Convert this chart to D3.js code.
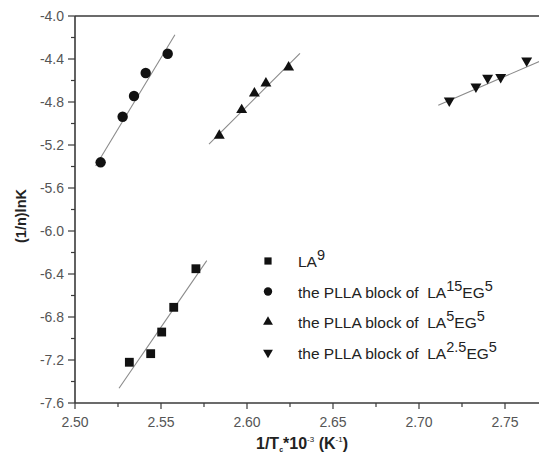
<!DOCTYPE html>
<html><head><meta charset="utf-8">
<script src="https://cdn.jsdelivr.net/npm/d3@7"></script>
<style>body{margin:0;background:#fff}svg{display:block}text{font-family:"Liberation Sans",Arial,sans-serif}</style>
</head><body><svg id="c" width="539" height="461"></svg>
<script>
// Data
const xTicks = [2.50, 2.55, 2.60, 2.65, 2.70, 2.75];
const yTicks = [-4.0, -4.4, -4.8, -5.2, -5.6, -6.0, -6.4, -6.8, -7.2, -7.6];
const seriesNames = ["LA9", "LA15EG5", "LA5EG5", "LA2.5EG5"];
const la9X = [2.5316, 2.5440, 2.5504, 2.5574, 2.5703];
const la9Y = [-7.221, -7.141, -6.940, -6.710, -6.351];
const la15X = [2.5149, 2.5277, 2.5343, 2.5411, 2.5539];
const la15Y = [-5.361, -4.937, -4.744, -4.530, -4.351];
const la5X = [2.5839, 2.5969, 2.6043, 2.6110, 2.6242];
const la5Y = [-5.113, -4.874, -4.719, -4.626, -4.477];
const la25X = [2.7176, 2.7331, 2.7399, 2.7475, 2.7626];
const la25Y = [-4.788, -4.658, -4.577, -4.570, -4.416];
// fitted line ends [x0, y0, x1, y1]
const fitLA9 = [2.5256, -7.463, 2.5766, -6.276];
const fitLA15 = [2.5120, -5.395, 2.5581, -4.174];
const fitLA5 = [2.5779, -5.192, 2.6308, -4.347];
const fitLA25 = [2.7112, -4.830, 2.7800, -4.353];

const svg = d3.select("#c");
const x = d3.scaleLinear().domain([2.50, 2.75]).range([75, 505]);
const y = d3.scaleLinear().domain([-7.6, -4.0]).range([403, 16]);
const right = 539;

svg.append("defs").append("clipPath").attr("id","clip")
  .append("rect").attr("x",75).attr("y",16).attr("width",right-75).attr("height",387);

const axisCol = "#3a3a3a";
const labCol = "#555";

// ticks
const gx = svg.append("g");
d3.range(0, 11).forEach(k => {
  const v = 2.5 + k * 0.025;
  const major = k % 2 === 0;
  gx.append("line").attr("x1", x(v)).attr("x2", x(v)).attr("y1", 403).attr("y2", 403 + (major ? 6 : 4))
    .attr("stroke", axisCol).attr("stroke-width", 1.2);
});
xTicks.forEach(v => {
  gx.append("text").attr("x", x(v)).attr("y", 427).attr("text-anchor", "middle")
    .attr("font-size", 14).attr("fill", labCol).text(v.toFixed(2));
});
const gy = svg.append("g");
d3.range(0, 19).forEach(k => {
  const v = -7.6 + k * 0.2;
  const major = k % 2 === 0;
  gy.append("line").attr("x1", 75 - (major ? 7 : 4)).attr("x2", 75).attr("y1", y(v)).attr("y2", y(v))
    .attr("stroke", axisCol).attr("stroke-width", 1.2);
});
yTicks.forEach(v => {
  gy.append("text").attr("x", 64).attr("y", y(v) + 5).attr("text-anchor", "end")
    .attr("font-size", 14).attr("fill", labCol).text(v.toFixed(1));
});

// axis lines
svg.append("line").attr("x1", 75).attr("x2", right).attr("y1", 403).attr("y2", 403).attr("stroke", axisCol).attr("stroke-width", 1.6);
svg.append("line").attr("x1", 75).attr("x2", right).attr("y1", 16).attr("y2", 16).attr("stroke", axisCol).attr("stroke-width", 1.6);
svg.append("line").attr("x1", 75).attr("x2", 75).attr("y1", 16).attr("y2", 403).attr("stroke", axisCol).attr("stroke-width", 1.6);

// fit lines
const plot = svg.append("g").attr("clip-path", "url(#clip)");
[fitLA9, fitLA15, fitLA5, fitLA25].forEach(f => {
  plot.append("line").attr("x1", x(f[0])).attr("y1", y(f[1])).attr("x2", x(f[2])).attr("y2", y(f[3]))
    .attr("stroke", "#8a8a8a").attr("stroke-width", 1.1);
});

const mk = (t, s) => d3.symbol().type(t).size(s);
const sets = [
  {xs: la9X, ys: la9Y, sym: mk(d3.symbolSquare, 78), leg: mk(d3.symbolSquare, 52), rot: 0},
  {xs: la15X, ys: la15Y, sym: mk(d3.symbolCircle, 85), leg: mk(d3.symbolCircle, 55), rot: 0},
  {xs: la5X, ys: la5Y, sym: mk(d3.symbolTriangle, 52), leg: mk(d3.symbolTriangle, 42), rot: 0},
  {xs: la25X, ys: la25Y, sym: mk(d3.symbolTriangle, 52), leg: mk(d3.symbolTriangle, 42), rot: 180}
];
sets.forEach(s => {
  s.xs.forEach((xv, i) => {
    plot.append("path").attr("d", s.sym())
      .attr("transform", `translate(${x(xv)},${y(s.ys[i])}) rotate(${s.rot})`)
      .attr("fill", "#111");
  });
});

// legend
const gap = "\u00a0 ";
const legRows = [
  [["LA",""],["9","sup"]],
  [["the PLLA block of" + gap + "LA",""],["15","sup"],["EG",""],["5","sup"]],
  [["the PLLA block of" + gap + "LA",""],["5","sup"],["EG",""],["5","sup"]],
  [["the PLLA block of" + gap + "LA",""],["2.5","sup"],["EG",""],["5","sup"]]
];
legRows.forEach((r, i) => {
  const cy = 261 + i * 30.5;
  svg.append("path").attr("d", sets[i].leg()).attr("fill", "#111")
    .attr("transform", `translate(268,${cy}) rotate(${sets[i].rot})`);
  const t = svg.append("text").attr("x", 298).attr("y", cy + 6).attr("font-size", 15.5).attr("fill", "#222");
  let raised = false;
  r.forEach(p => {
    const ts = t.append("tspan").text(p[0]);
    if (p[1] === "sup") { ts.attr("dy", -7).attr("font-size", 14.5); raised = true; }
    else if (raised) { ts.attr("dy", 7); raised = false; }
  });
});

// axis titles
svg.append("text").attr("transform", "translate(26,216) rotate(-90)").attr("text-anchor", "middle")
  .attr("font-size", 14.5).attr("font-weight", "bold").attr("fill", "#222").text("(1/n)lnK");
const xt = svg.append("text").attr("x", 256).attr("y", 449).attr("font-size", 16).attr("font-weight", "bold").attr("fill", "#222");
xt.append("tspan").text("1/T");
xt.append("tspan").attr("font-size", 7).attr("dy", 3).text("c");
xt.append("tspan").attr("dy", -3).text("*10");
xt.append("tspan").attr("font-size", 8).attr("font-weight", "normal").attr("dy", -7).text("-3");
xt.append("tspan").attr("dy", 7).text("\u00a0(K");
xt.append("tspan").attr("font-size", 8).attr("font-weight", "normal").attr("dy", -7).text("-1");
xt.append("tspan").attr("dy", 7).text(")");
</script></body></html>
